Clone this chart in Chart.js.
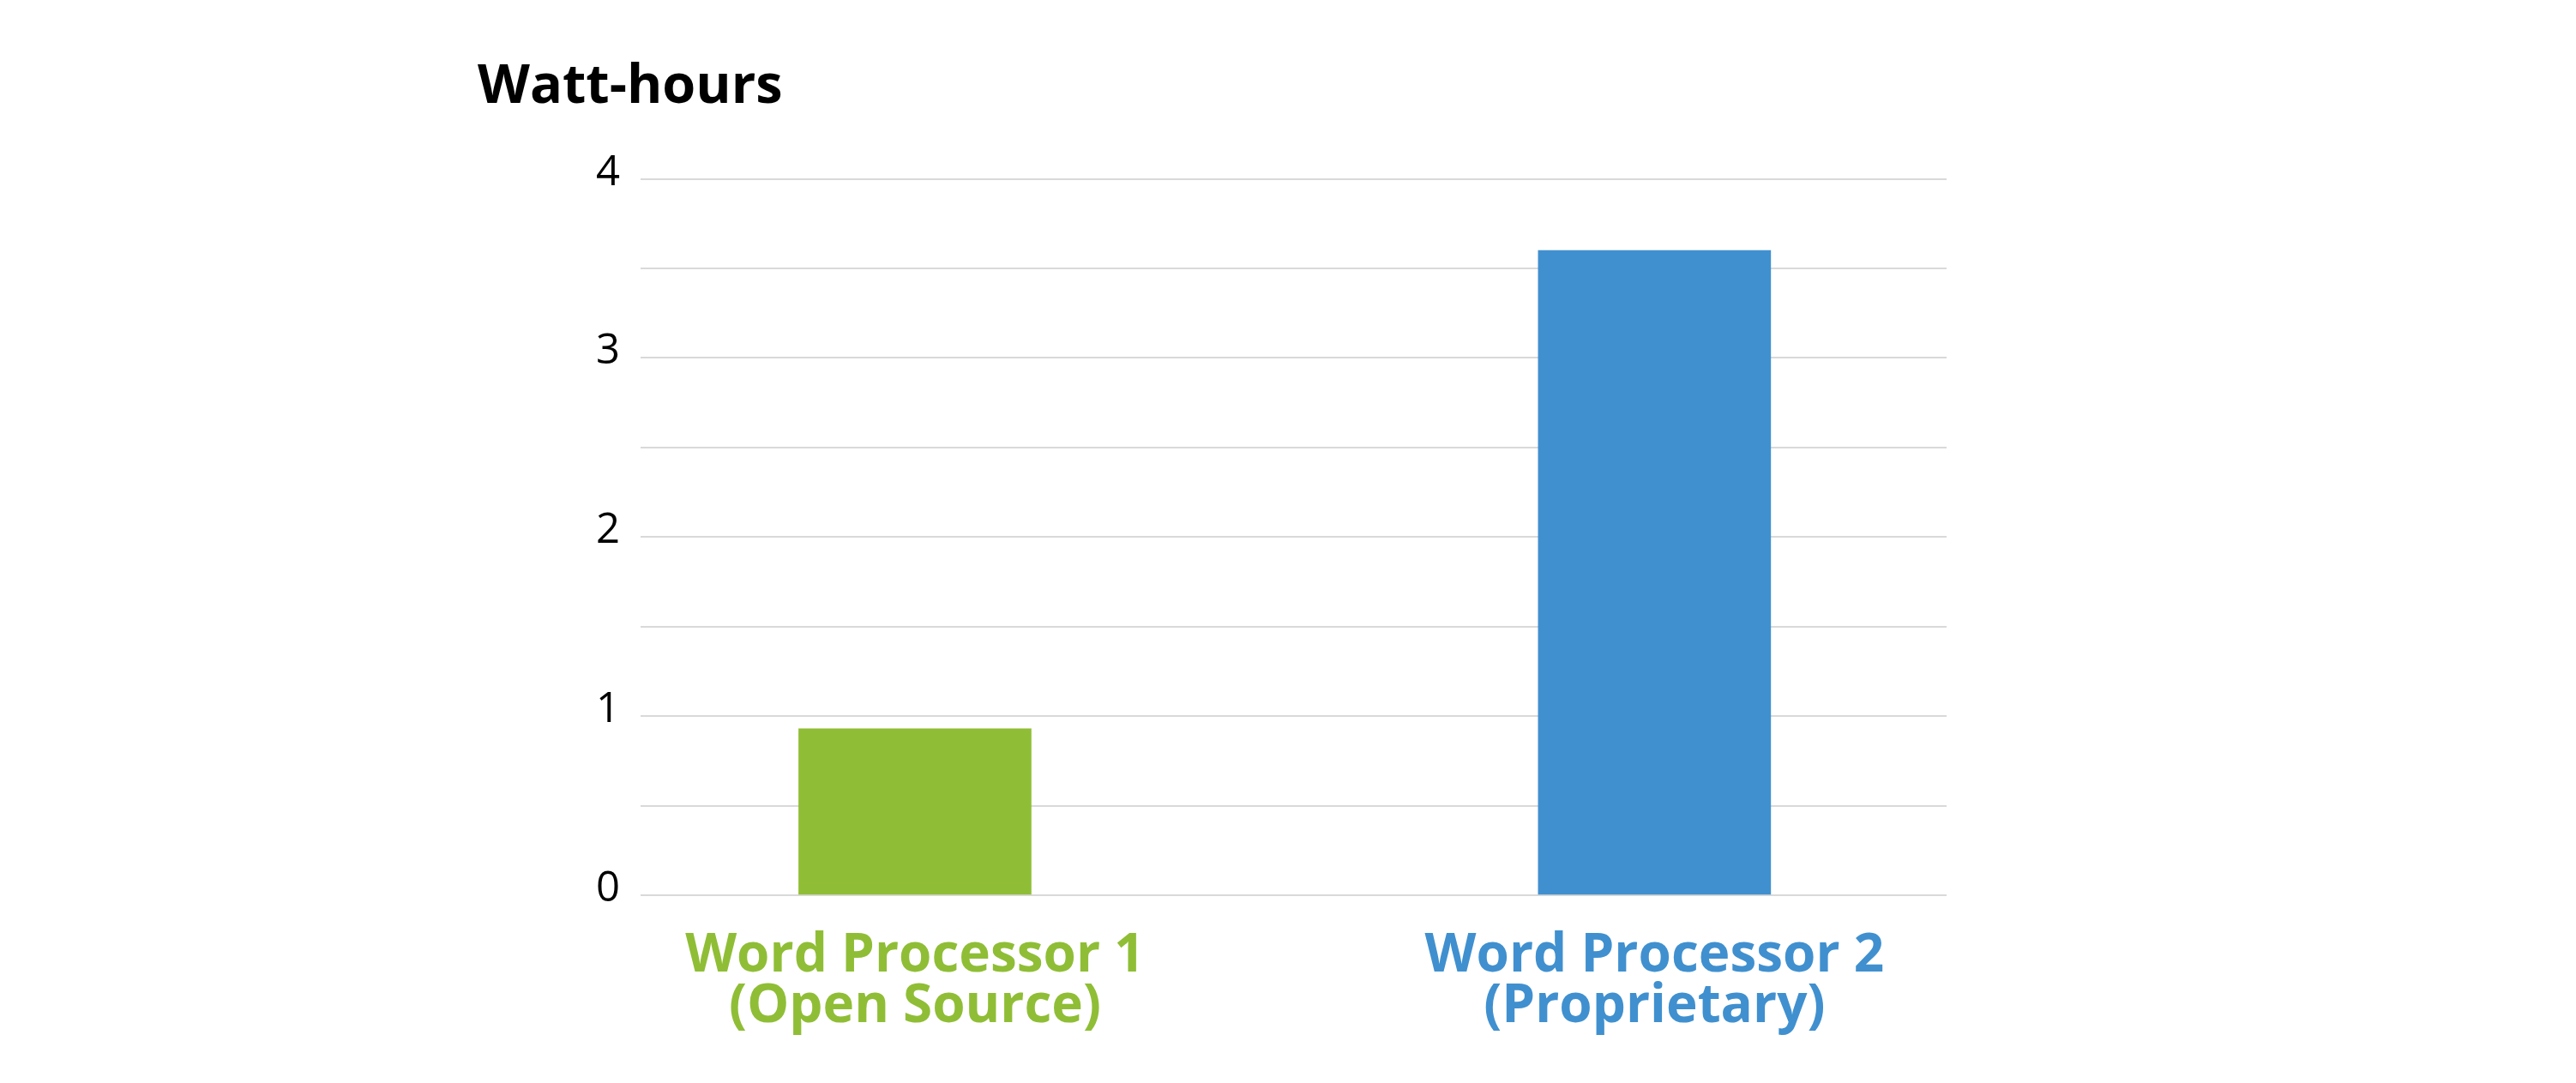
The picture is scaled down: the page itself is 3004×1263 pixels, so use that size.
<!DOCTYPE html>
<html>
<head>
<meta charset="utf-8">
<script src="https://cdn.jsdelivr.net/npm/chart.js@4"></script>
<style>
  html, body { margin: 0; padding: 0; background: #fff; }
  #wrap { width: 3004px; height: 1263px; }
</style>
</head>
<body>
<div id="wrap"><canvas id="myChart"></canvas></div>
<script>
var categories = [
  ["Word Processor 1", "(Open Source)"],
  ["Word Processor 2", "(Proprietary)"],
];

var wattHours = [0.93, 3.6];

var barColors = ["#8FBE36", "#4090CF"];

var yTicks = [0, 1, 2, 3, 4];

// bars sit at x = 1, 2 on a linear axis so they can be placed off-centre like the original
var points = wattHours.map(function (v, i) { return { x: i + 1, y: v }; });

new Chart(document.getElementById("myChart"), {
  type: "bar",
  data: {
    datasets: [
      {
        data: points,
        backgroundColor: barColors,
        barThickness: 271,
      },
    ],
  },
  options: {
    responsive: true,
    maintainAspectRatio: false,
    devicePixelRatio: 1,
    animation: false,
    layout: { padding: { left: 557, right: 734, top: 0, bottom: 0 } },
    plugins: {
      legend: { display: false },
      tooltip: { enabled: false },
      title: {
        display: true,
        text: "Watt-hours",
        align: "start",
        color: "#000",
        font: { family: "Open Sans", size: 63, weight: "bold", lineHeight: 1.2 },
        padding: { top: 64, bottom: 69 },
      },
    },
    scales: {
      x: {
        type: "linear",
        min: 0.629,
        max: 2.395,
        offset: false,
        bounds: "data",
        grid: { display: false, offset: false },
        border: { display: false },
        afterBuildTicks: function (axis) {
          axis.ticks = categories.map(function (c, i) { return { value: i + 1 }; });
        },
        ticks: {
          color: barColors,
          padding: 34,
          maxRotation: 0,
          autoSkip: false,
          font: { family: "Open Sans", size: 62, weight: "bold", lineHeight: 0.95 },
          callback: function (v) { return categories[v - 1]; },
        },
        afterFit: function (axis) { axis.height = 219; },
      },
      y: {
        min: 0,
        max: 4,
        border: { display: false },
        grid: { color: "#D9D9D9", lineWidth: 2, drawTicks: false },
        ticks: {
          stepSize: 0.5,
          padding: 24,
          labelOffset: -7,
          color: "#000",
          font: { family: "Open Sans", size: 49 },
          callback: function (v) { return yTicks.indexOf(v) >= 0 ? String(v) : ""; },
        },
        afterFit: function (axis) { axis.width = 190; },
      },
    },
  },
});
</script>
</body>
</html>
